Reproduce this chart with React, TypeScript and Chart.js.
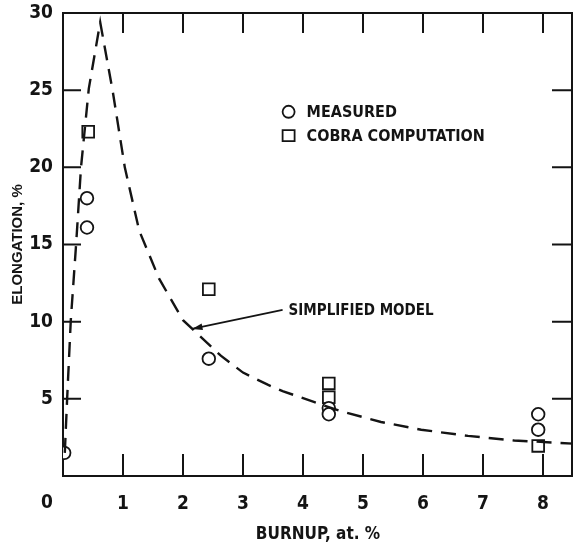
import React, { useEffect, useRef } from 'react';
import { Chart, registerables } from 'chart.js';

Chart.register(...registerables);

// Simplified model curve (dashed)
const modelBurnup = [0.03, 0.07, 0.13, 0.22, 0.3, 0.43, 0.62, 0.83, 1.03, 1.27, 1.6, 2.0, 2.3, 2.63, 3.0, 3.42, 3.66, 4.18, 4.63, 5.3, 5.97, 6.75, 7.52, 8.5];
const modelElongation = [1.5, 5.1, 10.1, 15.1, 20, 25.1, 29.4, 24.9, 20, 15.9, 12.8, 10.1, 9.0, 7.8, 6.7, 5.9, 5.5, 4.8, 4.2, 3.5, 3.0, 2.6, 2.3, 2.1];

// Measured points (circles)
const measuredBurnup = [0.02, 0.4, 0.4, 2.43, 4.43, 4.43, 7.92, 7.92];
const measuredElongation = [1.5, 18.0, 16.1, 7.6, 4.4, 4.0, 4.0, 3.0];

// COBRA computation points (squares)
const cobraBurnup = [0.42, 2.43, 4.43, 4.43, 7.92];
const cobraElongation = [22.3, 12.1, 6.0, 5.1, 1.95];

const xTicks = [0, 1, 2, 3, 4, 5, 6, 7, 8];
const yTicks = [5, 10, 15, 20, 25, 30];

const xTitle = 'BURNUP, at. %';
const yTitle = 'ELONGATION, %';
const legendLabels = ['MEASURED', 'COBRA COMPUTATION'];
const modelLabel = 'SIMPLIFIED MODEL';

const INK = '#141414';
const FONT = '"DejaVu Sans Condensed", "Liberation Sans Narrow", sans-serif';

const toPts = (xs: number[], ys: number[]) => xs.map((x, i) => ({ x, y: ys[i] }));

const decorPlugin = {
  id: 'decor',
  beforeDatasetsDraw(chart: any) {
    const { ctx, chartArea: a, scales } = chart;
    const xs = scales.x;
    const ys = scales.y;
    ctx.save();
    ctx.strokeStyle = INK;
    ctx.lineWidth = 2;
    ctx.strokeRect(a.left, a.top, a.right - a.left - 1, a.bottom - a.top);
    ctx.beginPath();
    xTicks.forEach((v) => {
      if (v === 0) return;
      const px = xs.getPixelForValue(v);
      ctx.moveTo(px, a.bottom);
      ctx.lineTo(px, a.bottom - 22);
      ctx.moveTo(px, a.top);
      ctx.lineTo(px, a.top + 20);
    });
    yTicks.forEach((v) => {
      if (v === 30) return;
      const py = ys.getPixelForValue(v);
      ctx.moveTo(a.left, py);
      ctx.lineTo(a.left + 18, py);
      ctx.moveTo(a.right - 1, py);
      ctx.lineTo(a.right - 21, py);
    });
    ctx.stroke();
    ctx.restore();
  },
  afterDraw(chart: any) {
    const { ctx, chartArea: a, scales } = chart;
    const xs = scales.x;
    const ys = scales.y;
    ctx.save();
    ctx.fillStyle = INK;
    ctx.strokeStyle = INK;

    // "0" label, offset left of the axis
    ctx.font = `bold 19px ${FONT}`;
    ctx.textAlign = 'center';
    ctx.textBaseline = 'middle';
    ctx.fillText('0', xs.getPixelForValue(0) - 16, a.bottom + 27);

    // legend
    const lx = xs.getPixelForValue(3.76);
    const tx = xs.getPixelForValue(4.06);
    const ly1 = ys.getPixelForValue(23.6);
    const ly2 = ys.getPixelForValue(22.05);
    ctx.lineWidth = 1.8;
    ctx.fillStyle = '#fff';
    ctx.beginPath();
    ctx.arc(lx, ly1, 6, 0, Math.PI * 2);
    ctx.fill();
    ctx.stroke();
    ctx.beginPath();
    ctx.rect(lx - 6, ly2 - 5.5, 12, 11);
    ctx.fill();
    ctx.stroke();
    ctx.fillStyle = INK;
    ctx.font = `bold 16px ${FONT}`;
    ctx.textAlign = 'left';
    ctx.fillText(legendLabels[0], tx, ly1 + 1);
    ctx.fillText(legendLabels[1], tx, ly2 + 1);

    // model annotation with arrow
    const ax0 = xs.getPixelForValue(3.66);
    const ay0 = ys.getPixelForValue(10.76);
    const ax1 = xs.getPixelForValue(2.15);
    const ay1 = ys.getPixelForValue(9.53);
    ctx.lineWidth = 1.8;
    ctx.beginPath();
    ctx.moveTo(ax0, ay0);
    ctx.lineTo(ax1, ay1);
    ctx.stroke();
    const ang = Math.atan2(ay1 - ay0, ax1 - ax0);
    ctx.beginPath();
    ctx.moveTo(ax1, ay1);
    ctx.lineTo(ax1 - 11 * Math.cos(ang - 0.3), ay1 - 11 * Math.sin(ang - 0.3));
    ctx.lineTo(ax1 - 11 * Math.cos(ang + 0.3), ay1 - 11 * Math.sin(ang + 0.3));
    ctx.closePath();
    ctx.fill();
    ctx.font = `bold 15px ${FONT}`;
    ctx.fillText(modelLabel, xs.getPixelForValue(3.76), ay0 + 1);
    ctx.restore();
  },
};

export default function App() {
  const ref = useRef<HTMLCanvasElement | null>(null);

  useEffect(() => {
    document.body.style.margin = '0';
    document.body.style.background = '#fff';
    const canvas = ref.current;
    if (!canvas) return;
    const chart = new Chart(canvas, {
      type: 'scatter',
      data: {
        datasets: [
          {
            type: 'line',
            label: modelLabel,
            data: toPts(modelBurnup, modelElongation),
            borderColor: INK,
            borderWidth: 2.4,
            borderDash: [15, 9],
            pointRadius: 0,
            tension: 0,
            fill: false,
          } as any,
          {
            label: legendLabels[0],
            data: toPts(measuredBurnup, measuredElongation),
            pointStyle: 'circle',
            pointRadius: 6.3,
            pointBorderWidth: 1.8,
            borderColor: INK,
            backgroundColor: '#fff',
          },
          {
            label: legendLabels[1],
            data: toPts(cobraBurnup, cobraElongation),
            pointStyle: 'rect',
            pointRadius: 8.3,
            pointBorderWidth: 1.8,
            borderColor: INK,
            backgroundColor: '#fff',
          },
        ],
      },
      options: {
        responsive: false,
        animation: false,
        layout: { autoPadding: false, padding: { top: 13, right: 0, left: 0, bottom: 0 } },
        plugins: {
          legend: { display: false },
          tooltip: { enabled: false },
        },
        scales: {
          x: {
            type: 'linear',
            min: 0,
            max: 8.5,
            afterBuildTicks: (s: any) => {
              s.ticks = xTicks.map((v) => ({ value: v }));
            },
            afterFit: (s: any) => {
              s.height = 73;
              s.paddingLeft = 0;
              s.paddingRight = 0;
            },
            grid: { display: false, drawTicks: false },
            border: { display: false },
            ticks: {
              color: INK,
              padding: 17,
              maxRotation: 0,
              autoSkip: false,
              font: { family: FONT, size: 19, weight: 'bold' },
              callback: (v: any) => (v === 0 ? '' : String(v)),
            },
            title: {
              display: true,
              text: xTitle,
              color: INK,
              font: { family: FONT, size: 17, weight: 'bold' },
              padding: { top: 0, bottom: 4 },
            },
          },
          y: {
            type: 'linear',
            min: 0,
            max: 30,
            afterBuildTicks: (s: any) => {
              s.ticks = yTicks.map((v) => ({ value: v }));
            },
            afterFit: (s: any) => {
              s.width = 63;
              s.paddingTop = 0;
              s.paddingBottom = 0;
            },
            grid: { display: false, drawTicks: false },
            border: { display: false },
            ticks: {
              color: INK,
              padding: 10,
              autoSkip: false,
              font: { family: FONT, size: 19, weight: 'bold' },
            },
            title: {
              display: true,
              text: yTitle,
              color: INK,
              font: { family: '"Liberation Sans Narrow", sans-serif', size: 15, weight: 'bold' },
              padding: { top: 9, bottom: 0 },
            },
          },
        },
      },
      plugins: [decorPlugin],
    } as any);
    return () => chart.destroy();
  }, []);

  return <canvas ref={ref} width={573} height={549} style={{ display: 'block' }} />;
}
